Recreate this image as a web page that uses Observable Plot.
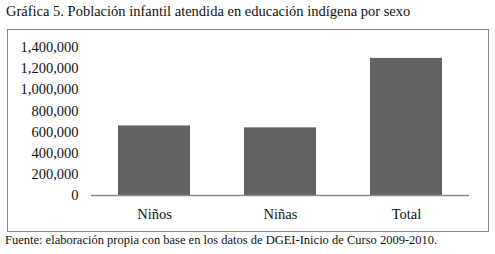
<!DOCTYPE html>
<html>
<head>
<meta charset="utf-8">
<script src="https://cdn.jsdelivr.net/npm/d3@7"></script>
<script src="https://cdn.jsdelivr.net/npm/@observablehq/plot@0.6"></script>
<style>
  html, body { margin: 0; padding: 0; background: #fff; }
  body { color: #111; font-family: 'Liberation Serif', serif; }
  #title { height: 29px; box-sizing: border-box; padding: 3px 0 0 6px; font-size: 14.5px; line-height: 17px; }
  #box { margin-left: 7px; width: 482px; height: 203px; border: 1px solid #8a8a8a; box-sizing: border-box; }
  #box svg { display: block; }
  #source { padding: 1px 0 0 5px; font-size: 12.5px; line-height: 15px; }
</style>
</head>
<body>
<div id="title">Gráfica 5. Población infantil atendida en educación indígena por sexo</div>
<div id="box"></div>
<div id="source">Fuente: elaboración propia con base en los datos de DGEI-Inicio de Curso 2009-2010.</div>
<script>
const categories = ["Niños", "Niñas", "Total"];
const values = [658000, 640000, 1297000];
const yTicks = [0, 200000, 400000, 600000, 800000, 1000000, 1200000, 1400000];

const data = categories.map((c, i) => ({category: c, value: values[i]}));
const fmt = d3.format(",");

const chart = Plot.plot({
  width: 480,
  height: 201,
  marginLeft: 83,
  marginRight: 19,
  marginTop: 17,
  marginBottom: 36,
  style: {fontFamily: "'Liberation Serif', serif", fontSize: "14.5px", color: "#111", background: "transparent"},
  x: {domain: categories, paddingInner: 0.43, paddingOuter: 0.215, label: null, tickSize: 0, tickPadding: 13},
  y: {domain: [0, 1400000], ticks: yTicks, tickFormat: fmt, label: null, tickSize: 0, tickPadding: 13},
  marks: [
    Plot.barY(data, {x: "category", y: "value", fill: "#626262"}),
    Plot.ruleY([0], {stroke: "#8a8a8a", strokeWidth: 1.3})
  ]
});
document.getElementById("box").appendChild(chart);
</script>
</body>
</html>
